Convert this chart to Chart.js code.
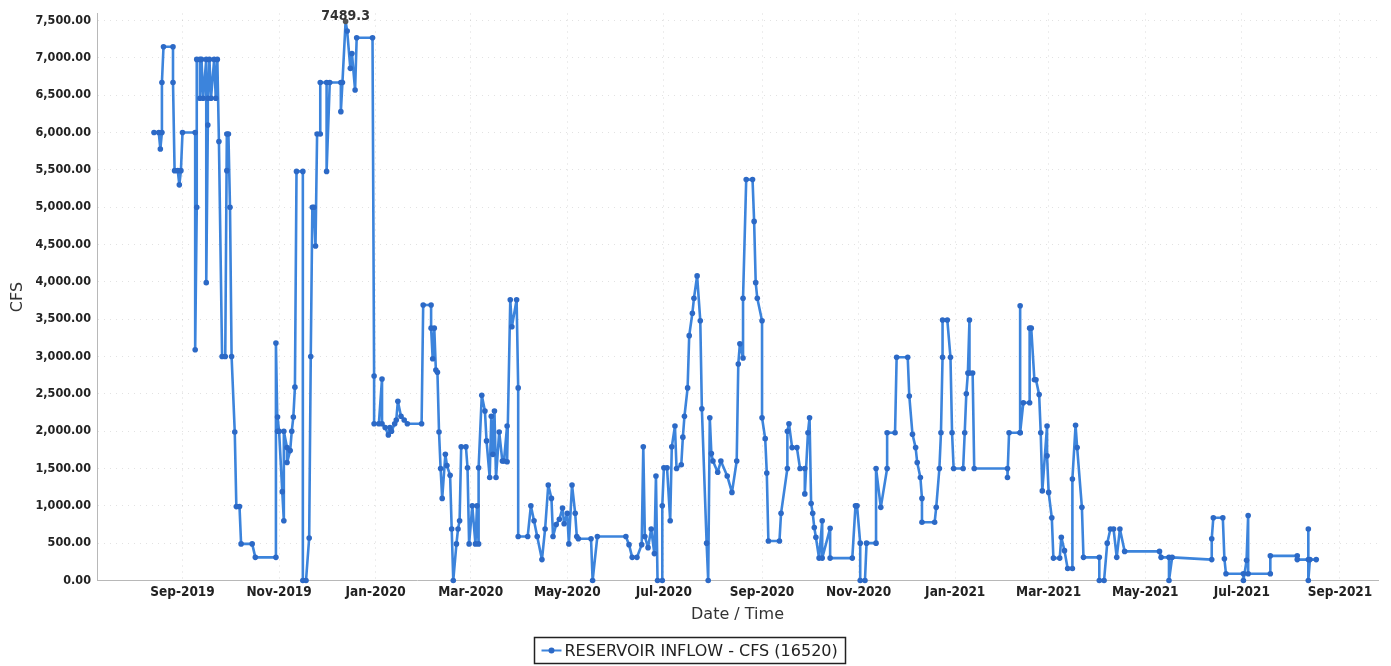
<!DOCTYPE html>
<html>
<head>
<meta charset="utf-8">
<script src="https://cdn.jsdelivr.net/npm/chart.js@4.4.0/dist/chart.umd.min.js"></script>
<style>
html,body{margin:0;padding:0;background:#fff;}
#wrap{width:1391px;height:666px;position:relative;}
</style>
</head>
<body>
<div id="wrap"><canvas id="c" width="1391" height="666"></canvas></div>
<script>
// ---- data ----
const dates = [
  '2019-08-14','2019-08-17','2019-08-18','2019-08-19','2019-08-19','2019-08-20','2019-08-26','2019-08-26','2019-08-27','2019-08-29','2019-08-30','2019-08-31',
  '2019-09-01','2019-09-09','2019-09-09','2019-09-10','2019-09-10','2019-09-12','2019-09-12','2019-09-13','2019-09-14','2019-09-16','2019-09-16','2019-09-17','2019-09-17','2019-09-18','2019-09-19','2019-09-21','2019-09-22','2019-09-23','2019-09-24','2019-09-26','2019-09-28','2019-09-29','2019-09-29','2019-09-30',
  '2019-10-01','2019-10-02','2019-10-04','2019-10-05','2019-10-07','2019-10-08','2019-10-15','2019-10-17','2019-10-30','2019-10-30','2019-10-31','2019-10-31',
  '2019-11-01','2019-11-03','2019-11-04','2019-11-04','2019-11-06','2019-11-06','2019-11-08','2019-11-09','2019-11-10','2019-11-11','2019-11-12','2019-11-16','2019-11-16','2019-11-18','2019-11-20','2019-11-21','2019-11-22','2019-11-23','2019-11-24','2019-11-25','2019-11-27','2019-11-27',
  '2019-12-01','2019-12-01','2019-12-03','2019-12-10','2019-12-10','2019-12-11','2019-12-13','2019-12-14','2019-12-16','2019-12-17','2019-12-19','2019-12-20','2019-12-30','2019-12-31','2019-12-31',
  '2020-01-03','2020-01-05','2020-01-05','2020-01-07','2020-01-09','2020-01-10','2020-01-11','2020-01-13','2020-01-14','2020-01-15','2020-01-17','2020-01-19','2020-01-21','2020-01-30','2020-01-31',
  '2020-02-05','2020-02-05','2020-02-06','2020-02-07','2020-02-08','2020-02-09','2020-02-10','2020-02-11','2020-02-12','2020-02-14','2020-02-15','2020-02-17','2020-02-18','2020-02-19','2020-02-21','2020-02-22','2020-02-23','2020-02-24','2020-02-27','2020-02-28','2020-02-29',
  '2020-03-02','2020-03-04','2020-03-05','2020-03-06','2020-03-06','2020-03-08','2020-03-10','2020-03-11','2020-03-13','2020-03-14','2020-03-15','2020-03-16','2020-03-17','2020-03-19','2020-03-21','2020-03-22','2020-03-24','2020-03-24','2020-03-26','2020-03-27','2020-03-30','2020-03-31','2020-03-31',
  '2020-04-06','2020-04-08','2020-04-10','2020-04-12','2020-04-15','2020-04-17','2020-04-19','2020-04-21','2020-04-22','2020-04-24','2020-04-26','2020-04-28','2020-04-29',
  '2020-05-01','2020-05-02','2020-05-04','2020-05-06','2020-05-07','2020-05-08','2020-05-16','2020-05-17','2020-05-20',
  '2020-06-07','2020-06-09','2020-06-11','2020-06-14','2020-06-17','2020-06-18','2020-06-19','2020-06-21','2020-06-23','2020-06-25','2020-06-26','2020-06-27','2020-06-30','2020-06-30',
  '2020-07-01','2020-07-03','2020-07-05','2020-07-06','2020-07-08','2020-07-09','2020-07-12','2020-07-13','2020-07-14','2020-07-16','2020-07-17','2020-07-19','2020-07-20','2020-07-22','2020-07-24','2020-07-25','2020-07-28','2020-07-29','2020-07-30','2020-07-31',
  '2020-08-01','2020-08-04','2020-08-06','2020-08-10','2020-08-13','2020-08-16','2020-08-17','2020-08-18','2020-08-20','2020-08-20','2020-08-22','2020-08-26','2020-08-27','2020-08-28','2020-08-29',
  '2020-09-01','2020-09-01','2020-09-03','2020-09-04','2020-09-05','2020-09-12','2020-09-13','2020-09-17','2020-09-17','2020-09-18','2020-09-20','2020-09-23','2020-09-25','2020-09-28','2020-09-28','2020-09-30',
  '2020-10-01','2020-10-02','2020-10-03','2020-10-04','2020-10-05','2020-10-07','2020-10-09','2020-10-09','2020-10-14','2020-10-14','2020-10-28','2020-10-30','2020-10-31',
  '2020-11-02','2020-11-02','2020-11-05','2020-11-06','2020-11-12','2020-11-12','2020-11-15','2020-11-19','2020-11-19','2020-11-24','2020-11-25',
  '2020-12-02','2020-12-03','2020-12-05','2020-12-07','2020-12-08','2020-12-10','2020-12-11','2020-12-11','2020-12-19','2020-12-20','2020-12-22','2020-12-23','2020-12-24','2020-12-24','2020-12-27','2020-12-29','2020-12-30','2020-12-31',
  '2021-01-06','2021-01-07','2021-01-08','2021-01-09','2021-01-10','2021-01-10','2021-01-12','2021-01-13',
  '2021-02-03','2021-02-03','2021-02-04','2021-02-11','2021-02-11','2021-02-11','2021-02-13','2021-02-17','2021-02-17','2021-02-18','2021-02-20','2021-02-21','2021-02-23','2021-02-24','2021-02-25','2021-02-28','2021-02-28',
  '2021-03-01','2021-03-03','2021-03-04','2021-03-08','2021-03-09','2021-03-11','2021-03-13','2021-03-16','2021-03-16','2021-03-18','2021-03-19','2021-03-22','2021-03-23',
  '2021-04-02','2021-04-02','2021-04-05','2021-04-07','2021-04-09','2021-04-11','2021-04-13','2021-04-15','2021-04-18',
  '2021-05-10','2021-05-11','2021-05-16','2021-05-16','2021-05-18',
  '2021-06-12','2021-06-12','2021-06-13','2021-06-19','2021-06-20','2021-06-21',
  '2021-07-02','2021-07-02','2021-07-04','2021-07-05','2021-07-05','2021-07-19','2021-07-19',
  '2021-08-05','2021-08-05','2021-08-12','2021-08-12','2021-08-12','2021-08-13','2021-08-17'
];
const inflowCfs = [
  6000,6000,5780,6000,6670,7150,7150,6670,5490,5490,5300,5490,
  6000,6000,3090,5000,6980,6980,6460,6980,6460,6980,3990,6100,6460,6980,6460,6980,6460,6980,5880,3000,3000,5980,5490,5980,
  5000,3000,1990,990,990,490,490,310,310,3180,2000,2190,
  2000,1190,800,2000,1780,1580,1740,2000,2190,2590,5480,5480,0,0,570,3000,5000,5000,4480,5980,5980,6670,
  6670,5480,6670,6670,6280,6670,7489.3,7360,6860,7060,6570,7270,7270,2740,2100,
  2100,2700,2100,2050,1950,2050,2000,2100,2150,2400,2200,2150,2100,2100,3690,
  3690,3380,2970,3380,2820,2790,1990,1500,1100,1690,1540,1410,690,0,490,690,800,1790,1790,1510,490,
  1000,490,1000,490,1510,2480,2270,1870,1380,2200,1690,2270,1380,1990,1600,1600,2070,1590,3760,3400,3760,2580,590,
  590,1000,800,590,280,690,1280,1100,590,750,820,970,760,
  900,490,1280,900,590,560,560,0,590,
  590,480,310,310,480,1790,590,440,690,360,1400,0,0,1000,
  1510,1510,800,1790,2070,1500,1550,1920,2200,2580,3280,3580,3780,4080,3480,2300,500,0,2180,1700,
  1600,1450,1600,1400,1180,1600,2900,3170,2980,3780,5370,5370,4810,3990,3780,
  3480,2180,1900,1440,530,530,900,1500,2000,2100,1780,1780,1500,1500,1160,1980,
  2180,1030,900,710,580,300,800,300,700,300,300,1000,1000,
  500,0,0,500,500,1500,980,1500,1980,1980,2990,
  2990,2470,1960,1780,1580,1380,1100,780,780,980,1500,1980,2990,3490,3490,2990,1980,1500,
  1500,1980,2500,2780,3490,2780,2780,1500,
  1500,1380,1980,1980,3680,1980,2380,2380,3380,3380,2690,2690,2490,1980,1200,2070,1670,
  1180,840,300,300,580,400,160,160,1360,2080,1780,980,310,
  310,0,0,500,690,690,310,690,390,
  390,310,310,0,310,
  280,560,840,840,290,90,
  90,0,270,870,90,90,330,
  330,280,280,690,0,280,280
];
const xTickDates = ['2019-09-01','2019-11-01','2020-01-01','2020-03-01','2020-05-01','2020-07-01','2020-09-01','2020-11-01','2021-01-01','2021-03-01','2021-05-01','2021-07-01','2021-09-01'];
const xTickLabels = ['Sep-2019','Nov-2019','Jan-2020','Mar-2020','May-2020','Jul-2020','Sep-2020','Nov-2020','Jan-2021','Mar-2021','May-2021','Jul-2021','Sep-2021'];
const yTickValues = [0,500,1000,1500,2000,2500,3000,3500,4000,4500,5000,5500,6000,6500,7000,7500];
const xRange = ['2019-07-09','2021-09-25'];
const yRange = [0, 7595];
const seriesLabel = 'RESERVOIR INFLOW - CFS (16520)';
const xTitle = 'Date / Time';
const yTitle = 'CFS';

// ---- helpers ----
const toMs = s => { const p = s.split('-').map(Number); return Date.UTC(p[0], p[1]-1, p[2]); };
const fmt2 = v => {
  const s = v.toFixed(2); const parts = s.split('.');
  return parts[0].replace(/\B(?=(\d{3})+(?!\d))/g, ',') + '.' + parts[1];
};
const points = dates.map((d, i) => ({ x: toMs(d), y: inflowCfs[i] }));
const maxVal = Math.max(...inflowCfs);
const lineColor = '#3c84dc';
const pointColor = '#2c69c6';

const peakLabel = {
  id: 'peakLabel',
  afterDatasetsDraw(chart) {
    const meta = chart.getDatasetMeta(0);
    const idx = inflowCfs.indexOf(maxVal);
    const el = meta.data[idx];
    if (!el) return;
    const ctx = chart.ctx;
    ctx.save();
    ctx.font = 'bold 14px "DejaVu Sans Condensed", "DejaVu Sans", sans-serif';
    ctx.fillStyle = '#333';
    ctx.textAlign = 'center';
    ctx.textBaseline = 'bottom';
    ctx.fillText(maxVal.toFixed(1), el.x, el.y + 2);
    ctx.restore();
  }
};

const legendBox = {
  id: 'legendBox',
  afterDraw(chart) {
    const ctx = chart.ctx;
    ctx.save();
    ctx.font = '16px "DejaVu Sans", sans-serif';
    const tw = ctx.measureText(seriesLabel).width;
    const w = Math.round(31 + tw + 7), h = 26;
    const x = Math.round(689.5 - w / 2) + 0.5, y = 637.5;
    ctx.strokeStyle = '#222';
    ctx.lineWidth = 1.5;
    ctx.strokeRect(x, y, w, h);
    ctx.strokeStyle = lineColor;
    ctx.lineWidth = 2;
    ctx.beginPath(); ctx.moveTo(x + 7, y + h / 2); ctx.lineTo(x + 27, y + h / 2); ctx.stroke();
    ctx.fillStyle = pointColor;
    ctx.beginPath(); ctx.arc(x + 17, y + h / 2, 3, 0, Math.PI * 2); ctx.fill();
    ctx.fillStyle = '#222';
    ctx.textAlign = 'left';
    ctx.textBaseline = 'middle';
    ctx.fillText(seriesLabel, x + 30, y + h / 2 + 1);
    ctx.restore();
  }
};

new Chart(document.getElementById('c'), {
  type: 'line',
  data: {
    datasets: [{
      label: seriesLabel,
      data: points,
      borderColor: lineColor,
      borderWidth: 2.6,
      borderJoinStyle: 'round',
      tension: 0,
      fill: false,
      pointRadius: 2.8,
      pointBorderWidth: 0,
      pointBackgroundColor: c => (c.raw && c.raw.y === maxVal ? '#555' : pointColor),
      pointHoverRadius: 2.8,
      clip: 6
    }]
  },
  options: {
    responsive: false,
    devicePixelRatio: 1,
    animation: false,
    events: [],
    layout: { padding: { left: 0, right: 13, top: 0, bottom: 42 } },
    plugins: {
      legend: { display: false },
      tooltip: { enabled: false }
    },
    scales: {
      x: {
        type: 'linear',
        min: toMs(xRange[0]),
        max: toMs(xRange[1]),
        afterBuildTicks: s => { s.ticks = xTickDates.map(d => ({ value: toMs(d) })); },
        afterFit: s => { s.height = 43.5; },
        ticks: {
          autoSkip: false,
          maxRotation: 0,
          padding: 4,
          color: '#222',
          font: { family: '"DejaVu Sans Condensed", "DejaVu Sans", sans-serif', size: 13.5, weight: 'bold' },
          callback: (v, i) => xTickLabels[i]
        },
        grid: { color: 'rgba(150,150,150,0.35)', lineWidth: 1, drawTicks: false },
        border: { display: true, color: '#b8b8b8', width: 1, dash: [1, 5] },
        title: {
          display: true, text: xTitle, color: '#333',
          font: { family: '"DejaVu Sans", sans-serif', size: 16 },
          padding: { top: 4, bottom: 0 }
        }
      },
      y: {
        type: 'linear',
        min: yRange[0],
        max: yRange[1],
        afterBuildTicks: s => { s.ticks = yTickValues.map(v => ({ value: v })); },
        afterFit: s => { s.width = 97; },
        ticks: {
          padding: 6,
          color: '#222',
          font: { family: '"DejaVu Sans Condensed", "DejaVu Sans", sans-serif', size: 12.5, weight: 'bold' },
          callback: v => fmt2(v)
        },
        grid: { color: 'rgba(150,150,150,0.28)', lineWidth: 1, drawTicks: false },
        border: { display: true, color: '#b8b8b8', width: 1, dash: [1, 5] },
        title: {
          display: true, text: yTitle, color: '#333',
          font: { family: '"DejaVu Sans", sans-serif', size: 16 },
          padding: { top: 8, bottom: 0 }
        }
      }
    }
  },
  plugins: [peakLabel, legendBox]
});
</script>
</body>
</html>
